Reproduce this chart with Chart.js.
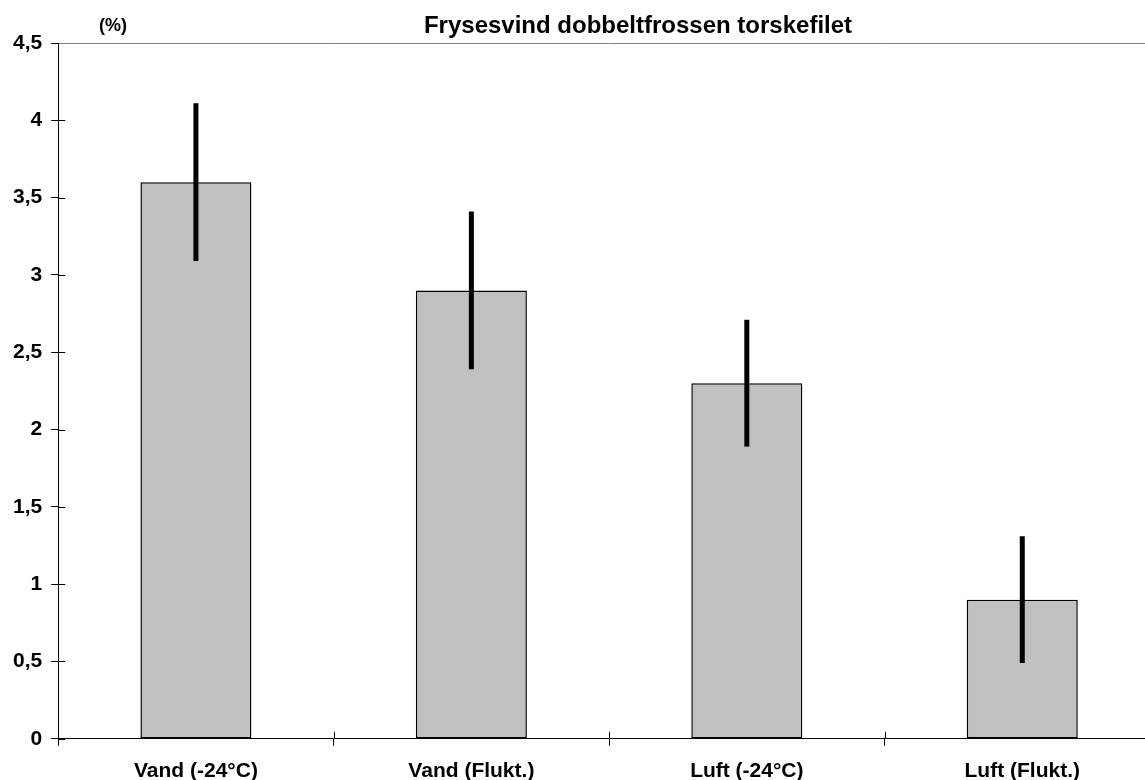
<!DOCTYPE html>
<html>
<head>
<meta charset="utf-8">
<title>Frysesvind dobbeltfrossen torskefilet</title>
<script src="https://cdn.jsdelivr.net/npm/chart.js@4.4.1/dist/chart.umd.min.js"></script>
<style>
  html, body { margin: 0; padding: 0; background: #ffffff; overflow: hidden; }
  #wrap { position: relative; width: 1160px; height: 796px; }
</style>
</head>
<body>
<div id="wrap"><canvas id="c"></canvas></div>
<script>
// Freezing loss (%) for double-frozen cod fillet, by freezing method
const categories = ['Vand (-24°C)', 'Vand (Flukt.)', 'Luft (-24°C)', 'Luft (Flukt.)'];
const frysesvind = [3.6, 2.9, 2.3, 0.9];
const spredning = [0.51, 0.51, 0.41, 0.41];
const yTickLabels = ['0', '0,5', '1', '1,5', '2', '2,5', '3', '3,5', '4', '4,5'];
const chartTitle = 'Frysesvind dobbeltfrossen torskefilet';
const unitLabel = '(%)';

const FONT = "'Liberation Sans', Arial, Helvetica, sans-serif";

// Heading and unit label above the plot
const headingPlugin = {
  id: 'heading',
  afterDraw(chart) {
    const ctx = chart.ctx;
    ctx.save();
    ctx.fillStyle = '#000';
    ctx.textBaseline = 'alphabetic';
    ctx.textAlign = 'center';
    ctx.font = 'bold 24px ' + FONT;
    ctx.fillText(chartTitle, 638, 33);
    ctx.font = 'bold 18px ' + FONT;
    ctx.fillText(unitLabel, 113, 31);
    ctx.restore();
  }
};

// Tick marks that cross the axes: draw the part inside the plot area
const crossTicksPlugin = {
  id: 'crossTicks',
  afterDraw(chart) {
    const ctx = chart.ctx;
    const { left, bottom } = chart.chartArea;
    const x = chart.scales.x, y = chart.scales.y;
    ctx.save();
    ctx.strokeStyle = '#000';
    ctx.lineWidth = 1;
    ctx.beginPath();
    y.ticks.forEach((t, i) => {
      if (i === y.ticks.length - 1) return;
      const py = Math.round(y.getPixelForValue(t.value)) + 0.5;
      ctx.moveTo(left, py);
      ctx.lineTo(left + 7, py);
    });
    for (let i = 0; i <= categories.length; i++) {
      const px = Math.round(x.getPixelForValue(i - 0.5)) + 0.5;
      ctx.moveTo(px, bottom);
      ctx.lineTo(px, bottom - 7);
    }
    ctx.stroke();
    ctx.restore();
  }
};

// Error bars (no caps) drawn over each bar
const errorBarPlugin = {
  id: 'errorBars',
  afterDatasetsDraw(chart) {
    const ctx = chart.ctx;
    const meta = chart.getDatasetMeta(0);
    const y = chart.scales.y;
    ctx.save();
    ctx.strokeStyle = '#000';
    ctx.lineWidth = 5;
    ctx.lineCap = 'butt';
    meta.data.forEach((bar, i) => {
      const v = frysesvind[i], e = spredning[i];
      ctx.beginPath();
      ctx.moveTo(bar.x, y.getPixelForValue(v + e));
      ctx.lineTo(bar.x, y.getPixelForValue(v - e));
      ctx.stroke();
    });
    ctx.restore();
  }
};

new Chart(document.getElementById('c'), {
  type: 'bar',
  data: {
    labels: categories,
    datasets: [{
      data: frysesvind,
      backgroundColor: '#c0c0c0',
      borderColor: '#000000',
      borderWidth: 1.5,
      borderSkipped: false,
      categoryPercentage: 1,
      barPercentage: 0.403
    }]
  },
  options: {
    responsive: true,
    maintainAspectRatio: false,
    animation: false,
    layout: { padding: { top: 43, left: 4, right: 0, bottom: 0 } },
    plugins: {
      legend: { display: false },
      title: { display: false },
      tooltip: { enabled: false }
    },
    scales: {
      x: {
        offset: true,
        grid: {
          offset: true,
          drawOnChartArea: false,
          drawTicks: true,
          tickLength: 7,
          tickColor: '#000'
        },
        border: { display: true, color: '#000', width: 1 },
        ticks: {
          color: '#000',
          padding: 12.5,
          maxRotation: 0,
          font: { family: FONT, size: 21, weight: 'bold' }
        }
      },
      y: {
        min: 0,
        max: 4.5,
        ticks: {
          stepSize: 0.5,
          color: '#000',
          padding: 9,
          font: { family: FONT, size: 21, weight: 'bold' },
          callback: (value, index) => yTickLabels[index]
        },
        grid: {
          drawTicks: true,
          tickLength: 7,
          tickColor: '#000',
          color: (c) => (c.tick && c.tick.value === 4.5) ? '#808080' : 'rgba(0,0,0,0)',
          lineWidth: 1
        },
        border: { display: true, color: '#000', width: 1 }
      }
    }
  },
  plugins: [errorBarPlugin, crossTicksPlugin, headingPlugin]
});
</script>
</body>
</html>
